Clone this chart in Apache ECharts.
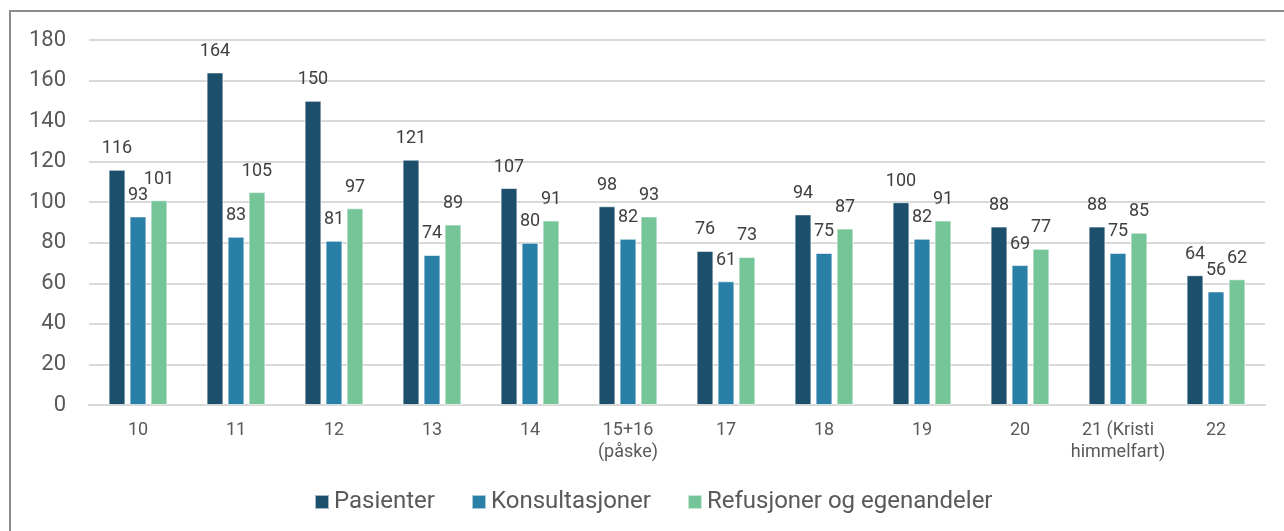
<!DOCTYPE html>
<html>
<head>
<meta charset="utf-8">
<script src="https://cdn.jsdelivr.net/npm/echarts@6/dist/echarts.min.js"></script>
<style>
  html, body { margin: 0; padding: 0; background: #fff; }
  #frame { position: absolute; left: 9px; top: 10px; width: 1290px; height: 540px;
           border-left: 2px solid #8c8c8c; border-top: 2px solid #8c8c8c; box-sizing: border-box; }
  #chart { position: absolute; left: 0; top: 0; width: 1284px; height: 531px; }
</style>
</head>
<body>
<div id="frame"></div>
<div id="chart"></div>
<script>
const weeks = ['10', '11', '12', '13', '14', '15+16\n(påske)', '17', '18', '19', '20', '21 (Kristi\nhimmelfart)', '22'];
const pasienter = [116, 164, 150, 121, 107, 98, 76, 94, 100, 88, 88, 64];
const konsultasjoner = [93, 83, 81, 74, 80, 82, 61, 75, 82, 69, 75, 56];
const refusjoner = [101, 105, 97, 89, 91, 93, 73, 87, 91, 77, 85, 62];

const chart = echarts.init(document.getElementById('chart'));

function bar(name, data, color) {
    return {
        name: name, type: 'bar', data: data,
        barGap: '25%', barCategoryGap: '40%',
        itemStyle: { color: color, borderColor: 'rgba(255,255,255,0.6)', borderWidth: 1 },
        label: { show: true, position: 'top', distance: 12, color: '#404040',
                 fontFamily: 'Roboto', fontSize: 18 }
    };
}

chart.setOption({
    backgroundColor: 'transparent',
    animation: false,
    textStyle: { fontFamily: 'Roboto' },
    grid: { left: 89, right: 19, top: 40, bottom: 126, containLabel: false },
    legend: {
        bottom: 12, left: 309, itemWidth: 14, itemHeight: 14, itemGap: 36,
        icon: 'rect',
        textStyle: { color: '#595959', fontSize: 24, fontFamily: 'Roboto' },
        data: ['Pasienter', 'Konsultasjoner', 'Refusjoner og egenandeler']
    },
    xAxis: {
        type: 'category', data: weeks,
        axisLine: { lineStyle: { color: '#d9d9d9', width: 2 } },
        axisTick: { show: false },
        axisLabel: { color: '#595959', fontSize: 18, margin: 14, lineHeight: 22, interval: 0 }
    },
    yAxis: {
        type: 'value', min: 0, max: 180, interval: 20,
        axisLine: { show: false }, axisTick: { show: false },
        splitLine: { lineStyle: { color: '#d9d9d9', width: 2 } },
        axisLabel: { color: '#595959', fontSize: 22, margin: 23 }
    },
    series: [
        bar('Pasienter', pasienter, '#1b4f6b'),
        bar('Konsultasjoner', konsultasjoner, '#2a7fa7'),
        bar('Refusjoner og egenandeler', refusjoner, '#76c599')
    ]
});
</script>
</body>
</html>
